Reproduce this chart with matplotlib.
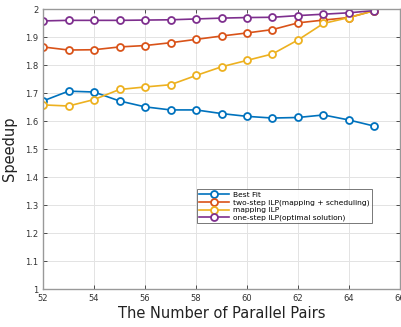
import matplotlib.pyplot as plt

pairs = [52, 53, 54, 55, 56, 57, 58, 59, 60, 61, 62, 63, 64, 65]
best_fit = [1.672, 1.707, 1.704, 1.672, 1.651, 1.640, 1.640, 1.627, 1.617, 1.611, 1.613, 1.622, 1.604, 1.582]
two_step = [1.865, 1.854, 1.855, 1.865, 1.870, 1.880, 1.892, 1.904, 1.915, 1.927, 1.951, 1.961, 1.970, 1.995]
mapping = [1.658, 1.654, 1.677, 1.713, 1.722, 1.730, 1.763, 1.794, 1.817, 1.840, 1.890, 1.949, 1.970, 1.995]
one_step = [1.958, 1.960, 1.960, 1.960, 1.961, 1.962, 1.965, 1.968, 1.970, 1.971, 1.977, 1.982, 1.987, 1.995]
labels = ['Best Fit', 'two-step ILP(mapping + scheduling)', 'mapping ILP', 'one-step ILP(optimal solution)']
colors = ['#0072BD', '#D95319', '#EDB120', '#7E2F8E']

fig = plt.figure(figsize=(4.02, 3.27), dpi=100)
ax = fig.add_axes([0.107, 0.116, 0.888, 0.856])

for ys, lab, c in zip([best_fit, two_step, mapping, one_step], labels, colors):
    ax.plot(pairs, ys, color=c, lw=1.2, marker='o', ms=5, mfc='white', mew=1.3, label=lab)

ax.set_xlim(52, 66)
ax.set_ylim(1, 2)
ax.set_xticks(range(52, 67, 2))
ax.set_yticks([1, 1.1, 1.2, 1.3, 1.4, 1.5, 1.6, 1.7, 1.8, 1.9, 2])
ax.set_yticklabels(['1', '1.1', '1.2', '1.3', '1.4', '1.5', '1.6', '1.7', '1.8', '1.9', '2'])
ax.grid(color='#e3e3e3', lw=0.7)
ax.tick_params(direction='in', labelsize=6, colors='#333333', length=3, width=0.6, right=True, top=True)
for s in ax.spines.values():
    s.set_color('#999999')
    s.set_linewidth(1.0)

ax.set_xlabel('The Number of Parallel Pairs', fontsize=10.5, color='#222222', labelpad=2)
ax.set_ylabel('Speedup', fontsize=10.5, color='#222222', labelpad=6)

leg = ax.legend(loc='upper left', bbox_to_anchor=(0.432, 0.356), fontsize=5.4, frameon=True,
                fancybox=False, edgecolor='#555555', handlelength=4, borderpad=0.3,
                labelspacing=0.15, handletextpad=0.5, borderaxespad=0)
leg.get_frame().set_linewidth(0.7)

fig.savefig('out.png', dpi=100)
